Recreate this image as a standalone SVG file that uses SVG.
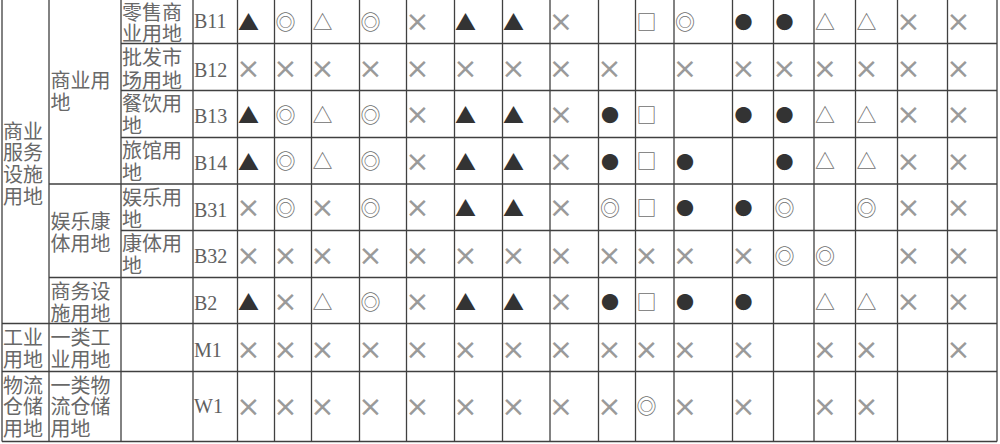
<svg xmlns="http://www.w3.org/2000/svg" width="1000" height="444" viewBox="0 0 1000 444">
<style>
.ln{stroke:#404040;stroke-width:1.3;fill:none}
.cj{font-family:"Noto Sans CJK SC","Noto Sans CJK JP",sans-serif;font-size:20px;fill:#686868}
.cd{font-family:"Liberation Serif",serif;font-size:20px;fill:#606060}
.s{font-family:"Noto Sans CJK SC",sans-serif;font-size:20px;text-anchor:middle;dominant-baseline:central}
.g{fill:#6e6e6e}
.d{fill:#333}
.t{font-size:21px}
.b{font-size:18px}
.x{font-family:"DejaVu Sans",sans-serif;font-size:29px;fill:#9a9a9a;text-anchor:middle;dominant-baseline:central}
</style>
<rect width="1000" height="444" fill="#fff"/>
<g id="grid">
<path class="ln" d="M2,0V441.5 M49,0V441.5 M121,0V441.5 M193,0V441.5 M237.5,0V441.5 M274.5,0V441.5 M311.5,0V441.5 M359.5,0V441.5 M406.5,0V441.5 M454.5,0V441.5 M502.5,0V441.5 M550,0V441.5 M598.5,0V441.5 M635.5,0V441.5 M674,0V441.5 M732.5,0V441.5 M773.5,0V441.5 M814,0V441.5 M855.5,0V441.5 M897.5,0V441.5 M947.5,0V441.5 M997,0V441.5"/>
<path class="ln" d="M121,43.5H997 M121,90.5H997 M121,137.5H997 M49,184H997 M121,230.5H997 M49,277.5H997 M2,323.5H997 M2,371.5H997 M2,441.5H997"/>
</g>
<g id="labels">
<text class="cj"><tspan x="3" y="138.5">商业</tspan><tspan x="3" y="160.2">服务</tspan><tspan x="3" y="181.9">设施</tspan><tspan x="3" y="203.6">用地</tspan></text>
<text class="cj"><tspan x="50.5" y="87.6">商业用</tspan><tspan x="50.5" y="109.5">地</tspan></text>
<text class="cj"><tspan x="50.5" y="228.5">娱乐康</tspan><tspan x="50.5" y="250.5">体用地</tspan></text>
<text class="cj"><tspan x="50.5" y="299">商务设</tspan><tspan x="50.5" y="320.7">施用地</tspan></text>
<text class="cj"><tspan x="3" y="345.3">工业</tspan><tspan x="3" y="366.5">用地</tspan></text>
<text class="cj"><tspan x="50.5" y="345.3">一类工</tspan><tspan x="50.5" y="366.5">业用地</tspan></text>
<text class="cj"><tspan x="3" y="392.6">物流</tspan><tspan x="3" y="414.3">仓储</tspan><tspan x="3" y="436">用地</tspan></text>
<text class="cj"><tspan x="50.5" y="392.6">一类物</tspan><tspan x="50.5" y="414.3">流仓储</tspan><tspan x="50.5" y="436">用地</tspan></text>
<text class="cj"><tspan x="122" y="19.5">零售商</tspan><tspan x="122" y="41">业用地</tspan></text>
<text class="cj"><tspan x="122" y="64.9">批发市</tspan><tspan x="122" y="87.6">场用地</tspan></text>
<text class="cj"><tspan x="122" y="110.9">餐饮用</tspan><tspan x="122" y="132.6">地</tspan></text>
<text class="cj"><tspan x="122" y="158">旅馆用</tspan><tspan x="122" y="180">地</tspan></text>
<text class="cj"><tspan x="122" y="204.5">娱乐用</tspan><tspan x="122" y="226.5">地</tspan></text>
<text class="cj"><tspan x="122" y="251">康体用</tspan><tspan x="122" y="273">地</tspan></text>
<text class="cd" x="194" y="28.3">B11</text>
<text class="cd" x="194" y="76.7">B12</text>
<text class="cd" x="194" y="123.3">B13</text>
<text class="cd" x="194" y="170">B14</text>
<text class="cd" x="194" y="216.7">B31</text>
<text class="cd" x="194" y="263.3">B32</text>
<text class="cd" x="194" y="310">B2</text>
<text class="cd" x="194" y="356.7">M1</text>
<text class="cd" x="194" y="413.3">W1</text>
</g>
<g id="row-B11">
<text class="s d t" x="248.5" y="21">▲</text><text class="s g" x="285.5" y="21">◎</text><text class="s g" x="322.5" y="21">△</text><text class="s g" x="370.5" y="21">◎</text><text class="x" x="417.5" y="21">×</text><text class="s d t" x="465.5" y="21">▲</text><text class="s d t" x="513.5" y="21">▲</text><text class="x" x="561" y="21">×</text><text class="s g" x="646.5" y="21">□</text><text class="s g" x="685" y="21">◎</text><text class="s d b" x="743.5" y="21">●</text><text class="s d b" x="784.5" y="21">●</text><text class="s g" x="825" y="21">△</text><text class="s g" x="866.5" y="21">△</text><text class="x" x="908.5" y="21">×</text><text class="x" x="958.5" y="21">×</text>
</g>
<g id="row-B12">
<text class="x" x="248.5" y="68.3">×</text><text class="x" x="285.5" y="68.3">×</text><text class="x" x="322.5" y="68.3">×</text><text class="x" x="370.5" y="68.3">×</text><text class="x" x="417.5" y="68.3">×</text><text class="x" x="465.5" y="68.3">×</text><text class="x" x="513.5" y="68.3">×</text><text class="x" x="561" y="68.3">×</text><text class="x" x="609.5" y="68.3">×</text><text class="x" x="685" y="68.3">×</text><text class="x" x="743.5" y="68.3">×</text><text class="x" x="784.5" y="68.3">×</text><text class="x" x="825" y="68.3">×</text><text class="x" x="866.5" y="68.3">×</text><text class="x" x="908.5" y="68.3">×</text><text class="x" x="958.5" y="68.3">×</text>
</g>
<g id="row-B13">
<text class="s d t" x="248.5" y="114">▲</text><text class="s g" x="285.5" y="114">◎</text><text class="s g" x="322.5" y="114">△</text><text class="s g" x="370.5" y="114">◎</text><text class="x" x="417.5" y="114">×</text><text class="s d t" x="465.5" y="114">▲</text><text class="s d t" x="513.5" y="114">▲</text><text class="x" x="561" y="114">×</text><text class="s d b" x="610" y="114">●</text><text class="s g" x="646.5" y="114">□</text><text class="s d b" x="743.5" y="114">●</text><text class="s d b" x="784.5" y="114">●</text><text class="s g" x="825" y="114">△</text><text class="s g" x="866.5" y="114">△</text><text class="x" x="908.5" y="114">×</text><text class="x" x="958.5" y="114">×</text>
</g>
<g id="row-B14">
<text class="s d t" x="248.5" y="160.8">▲</text><text class="s g" x="285.5" y="160.8">◎</text><text class="s g" x="322.5" y="160.8">△</text><text class="s g" x="370.5" y="160.8">◎</text><text class="x" x="417.5" y="160.8">×</text><text class="s d t" x="465.5" y="160.8">▲</text><text class="s d t" x="513.5" y="160.8">▲</text><text class="x" x="561" y="160.8">×</text><text class="s d b" x="610" y="160.8">●</text><text class="s g" x="646.5" y="160.8">□</text><text class="s d b" x="685" y="160.8">●</text><text class="s d b" x="784.5" y="160.8">●</text><text class="s g" x="825" y="160.8">△</text><text class="s g" x="866.5" y="160.8">△</text><text class="x" x="908.5" y="160.8">×</text><text class="x" x="958.5" y="160.8">×</text>
</g>
<g id="row-B31">
<text class="x" x="248.5" y="207">×</text><text class="s g" x="285.5" y="207">◎</text><text class="x" x="322.5" y="207">×</text><text class="s g" x="370.5" y="207">◎</text><text class="x" x="417.5" y="207">×</text><text class="s d t" x="465.5" y="207">▲</text><text class="s d t" x="513.5" y="207">▲</text><text class="x" x="561" y="207">×</text><text class="s g" x="610" y="207">◎</text><text class="s g" x="646.5" y="207">□</text><text class="s d b" x="685" y="207">●</text><text class="s d b" x="743.5" y="207">●</text><text class="s g" x="784.5" y="207">◎</text><text class="s g" x="866.5" y="207">◎</text><text class="x" x="908.5" y="207">×</text><text class="x" x="958.5" y="207">×</text>
</g>
<g id="row-B32">
<text class="x" x="248.5" y="255">×</text><text class="x" x="285.5" y="255">×</text><text class="x" x="322.5" y="255">×</text><text class="x" x="370.5" y="255">×</text><text class="x" x="417.5" y="255">×</text><text class="x" x="465.5" y="255">×</text><text class="x" x="513.5" y="255">×</text><text class="x" x="561" y="255">×</text><text class="x" x="609.5" y="255">×</text><text class="x" x="646.5" y="255">×</text><text class="x" x="685" y="255">×</text><text class="x" x="743.5" y="255">×</text><text class="s g" x="784.5" y="255">◎</text><text class="s g" x="825" y="255">◎</text><text class="x" x="908.5" y="255">×</text><text class="x" x="958.5" y="255">×</text>
</g>
<g id="row-B2">
<text class="s d t" x="248.5" y="301">▲</text><text class="x" x="285.5" y="301">×</text><text class="s g" x="322.5" y="301">△</text><text class="s g" x="370.5" y="301">◎</text><text class="x" x="417.5" y="301">×</text><text class="s d t" x="465.5" y="301">▲</text><text class="s d t" x="513.5" y="301">▲</text><text class="x" x="561" y="301">×</text><text class="s d b" x="610" y="301">●</text><text class="s g" x="646.5" y="301">□</text><text class="s d b" x="685" y="301">●</text><text class="s d b" x="743.5" y="301">●</text><text class="s g" x="825" y="301">△</text><text class="s g" x="866.5" y="301">△</text><text class="x" x="908.5" y="301">×</text><text class="x" x="958.5" y="301">×</text>
</g>
<g id="row-M1">
<text class="x" x="248.5" y="348.8">×</text><text class="x" x="285.5" y="348.8">×</text><text class="x" x="322.5" y="348.8">×</text><text class="x" x="370.5" y="348.8">×</text><text class="x" x="417.5" y="348.8">×</text><text class="x" x="465.5" y="348.8">×</text><text class="x" x="513.5" y="348.8">×</text><text class="x" x="561" y="348.8">×</text><text class="x" x="609.5" y="348.8">×</text><text class="x" x="646.5" y="348.8">×</text><text class="x" x="685" y="348.8">×</text><text class="x" x="743.5" y="348.8">×</text><text class="x" x="825" y="348.8">×</text><text class="x" x="866.5" y="348.8">×</text><text class="x" x="958.5" y="348.8">×</text>
</g>
<g id="row-W1">
<text class="x" x="248.5" y="405.8">×</text><text class="x" x="285.5" y="405.8">×</text><text class="x" x="322.5" y="405.8">×</text><text class="x" x="370.5" y="405.8">×</text><text class="x" x="417.5" y="405.8">×</text><text class="x" x="465.5" y="405.8">×</text><text class="x" x="513.5" y="405.8">×</text><text class="x" x="561" y="405.8">×</text><text class="x" x="609.5" y="405.8">×</text><text class="s g" x="646.5" y="405.8">◎</text><text class="x" x="685" y="405.8">×</text><text class="x" x="743.5" y="405.8">×</text><text class="x" x="825" y="405.8">×</text><text class="x" x="866.5" y="405.8">×</text>
</g>
</svg>
